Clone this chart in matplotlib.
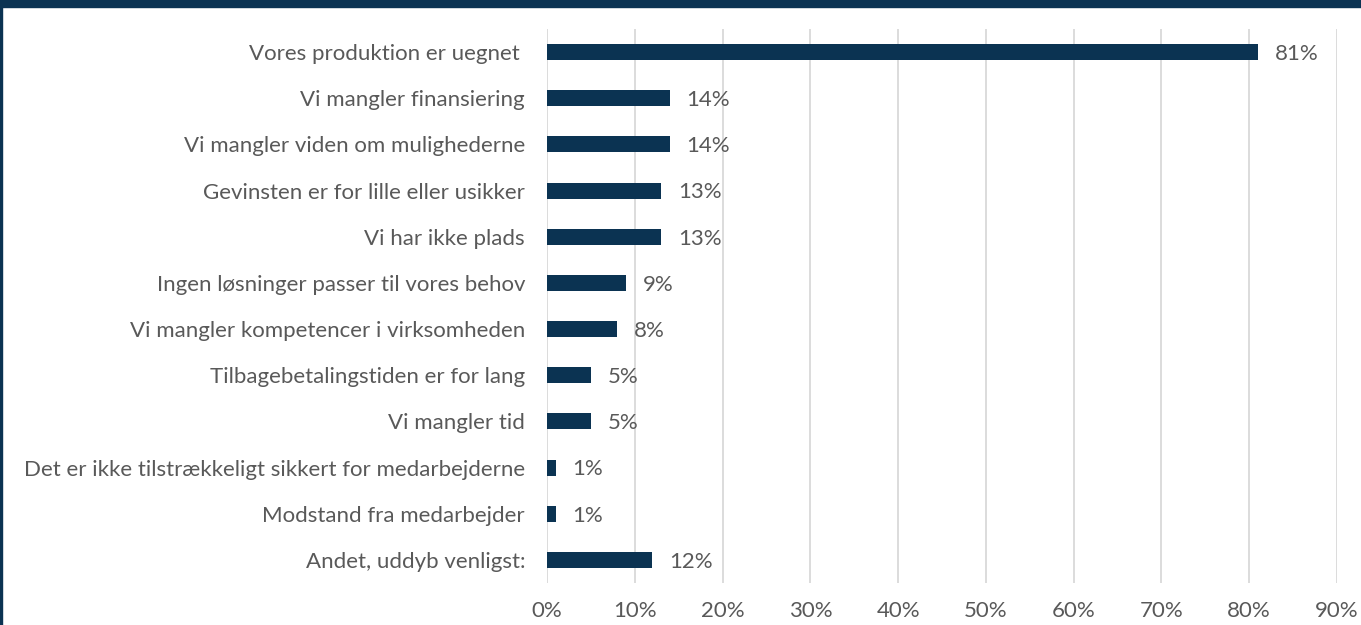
import matplotlib
matplotlib.use("Agg")
import matplotlib.pyplot as plt
from matplotlib.patches import Rectangle

categories = [
    "Vores produktion er uegnet ",
    "Vi mangler finansiering",
    "Vi mangler viden om mulighederne",
    "Gevinsten er for lille eller usikker",
    "Vi har ikke plads",
    "Ingen løsninger passer til vores behov",
    "Vi mangler kompetencer i virksomheden",
    "Tilbagebetalingstiden er for lang",
    "Vi mangler tid",
    "Det er ikke tilstrækkeligt sikkert for medarbejderne",
    "Modstand fra medarbejder",
    "Andet, uddyb venligst:",
]
values = [81, 14, 14, 13, 13, 9, 8, 5, 5, 1, 1, 12]
xticks = [0, 10, 20, 30, 40, 50, 60, 70, 80, 90]
xticklabels = [f"{t}%" for t in xticks]

navy = "#0b3352"
textc = "#595959"
fs = 16
plt.rcParams['font.family'] = ['Lato', 'DejaVu Sans']

fig = plt.figure(figsize=(13.61, 6.25), dpi=100)
ax = fig.add_axes([547/1361, 1-583/625, (1337-547)/1361, (583-29)/625])

ypos = list(range(len(categories)))
ax.barh(ypos, values, height=0.35, color=navy, zorder=3)
for y, v in zip(ypos, values):
    ax.text(v + 1.9, y + 0.04, f"{v}%", va="center", ha="left", fontsize=fs, color=textc)

ax.set_ylim(len(categories) - 0.5, -0.5)
ax.set_xlim(0, 90)
ax.set_yticks(ypos)
ax.set_yticklabels(categories, fontsize=fs, color=textc)
ax.set_xticks(xticks)
ax.set_xticklabels(xticklabels, fontsize=fs, color=textc)
ax.tick_params(axis="y", length=0, pad=15.8)
ax.tick_params(axis="x", length=0, pad=13)
ax.grid(axis="x", color="#d9d9d9", linewidth=1.3, zorder=0)
for s in ax.spines.values():
    s.set_visible(False)

# frame: top band and left line
fig.patches.append(Rectangle((0, 1-7/625), 1, 7/625, transform=fig.transFigure, color=navy, zorder=10))
fig.patches.append(Rectangle((0, 0), 2/1361, 1, transform=fig.transFigure, color=navy, zorder=10))

fig.savefig("out.png", dpi=100, facecolor="white")
